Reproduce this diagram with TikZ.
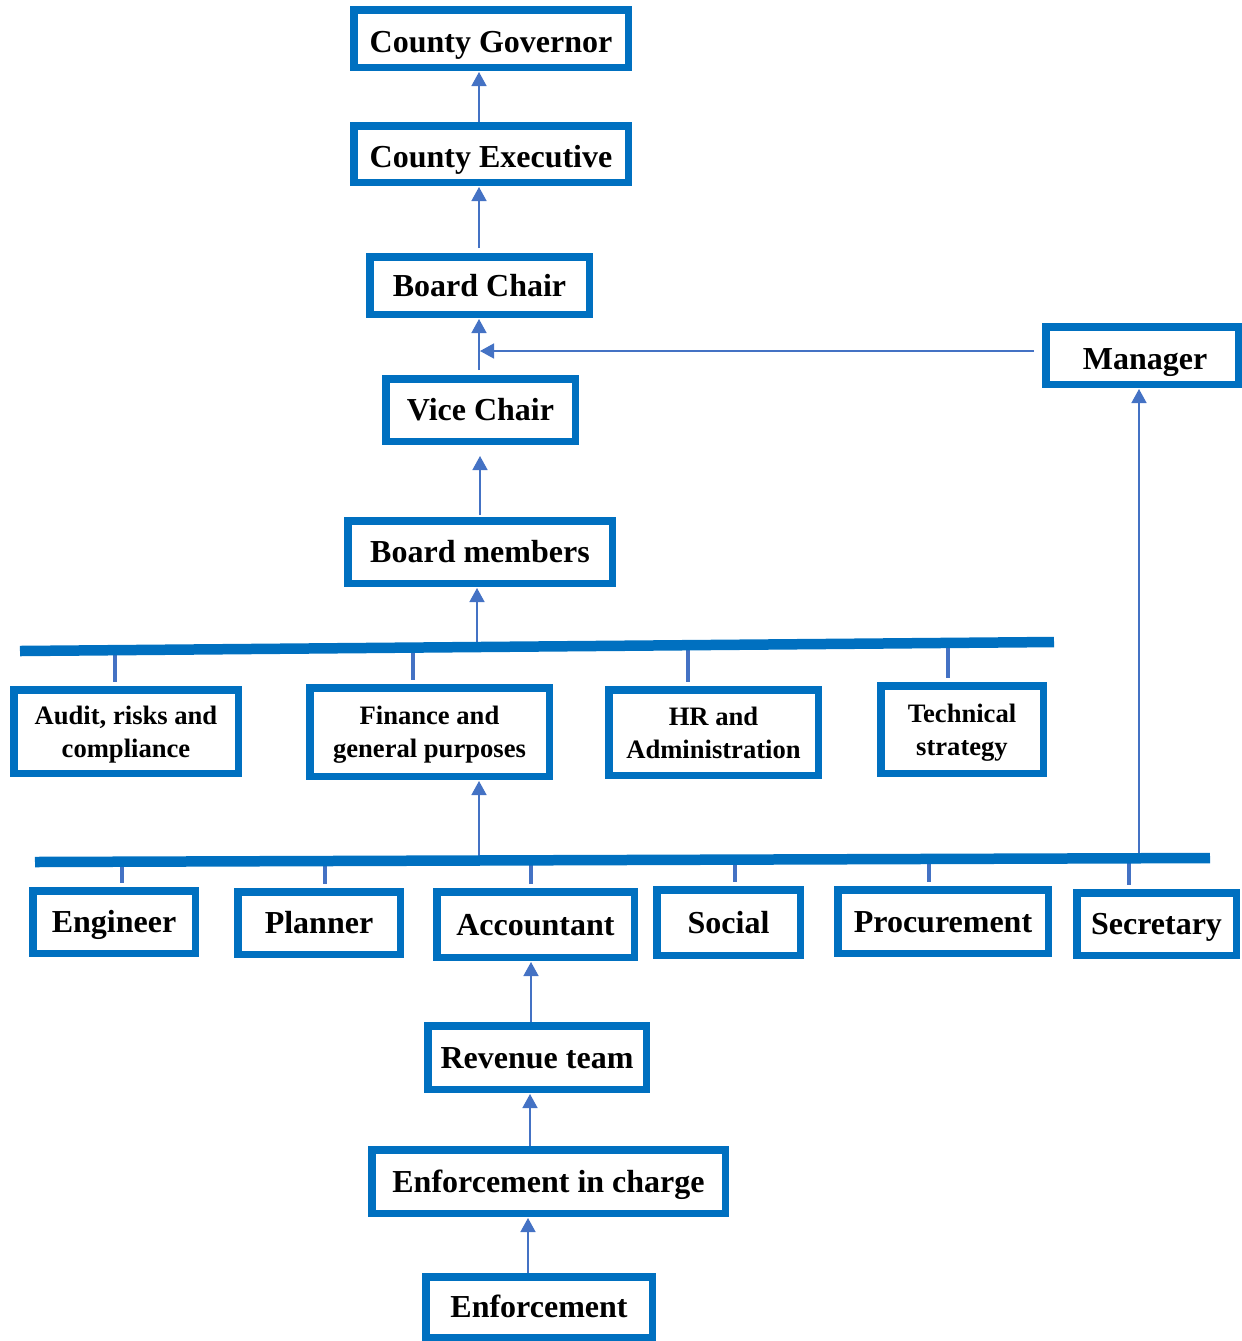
\documentclass[tikz,border=0pt]{standalone}
\usepackage{fontspec}
\setmainfont{Liberation Serif}
\usetikzlibrary{arrows.meta,calc}
\definecolor{boxblue}{HTML}{0070C0}
\definecolor{lineblue}{HTML}{4472C4}
\begin{document}
\begin{tikzpicture}[x=0.5pt,y=-0.5pt,
  box/.style={draw=boxblue, line width=3.75pt, fill=white, inner sep=0pt,
    text height=10.5pt, text depth=0pt,
    font=\fontsize{16}{19}\selectfont\bfseries, align=center},
  lowbox/.style={box, text height=13.5pt},
  cbox/.style={draw=boxblue, line width=3.75pt, fill=white, inner sep=0pt,
    text depth=0pt, align=center, font=\fontsize{13.3}{16.5}\selectfont\bfseries},
  sz/.style 2 args={minimum width=#1pt, minimum height=#2pt},
  arr/.style={draw=lineblue, line width=0.75pt, shorten >=0.5pt,
    -{Triangle[width=7.5pt,length=7pt]}},
  bar/.style={draw=boxblue, line width=5.25pt},
  stub/.style={draw=lineblue, line width=2.4pt, shorten >=1.875pt}]
\useasboundingbox (0,0) rectangle (1242,1341);

% boxes
\node[lowbox, sz={137.25}{28.75}] (gov) at (491,38.5) {County Governor};
\node[lowbox, sz={137.25}{28.25}] (exec) at (491,154) {County Executive};
\node[box, sz={109.75}{28.75}] (chair) at (479.5,285.5) {Board Chair};
\node[box, sz={94.75}{31.25}] (vice) at (480.5,410) {Vice Chair};
\node[lowbox, sz={96.25}{28.75}] (manager) at (1142,355.5) {\hspace*{3pt}Manager};
\node[box, sz={132.25}{31.25}] (members) at (480,552) {Board members};
\node[cbox, sz={112.25}{41.75}] (audit) at (126,731.5) {Audit, risks and\\compliance};
\node[cbox, sz={119.75}{44.25}] (finance) at (429.5,732) {Finance and\\general purposes};
\node[cbox, sz={104.75}{42.75}] (hr) at (713.5,732.5) {HR and\\Administration};
\node[cbox, sz={81.25}{43.75}] (tech) at (962,729.5) {Technical\\strategy};
\node[box, sz={81.25}{31.25}] (engineer) at (114,922) {Engineer};
\node[box, sz={81.25}{31.25}] (planner) at (319,923) {Planner};
\node[box, sz={98.75}{32.75}] (accountant) at (535.5,924.5) {Accountant};
\node[box, sz={71.75}{32.75}] (social) at (728.5,922.5) {Social};
\node[box, sz={105.25}{31.75}] (procurement) at (943,921.5) {Procurement};
\node[box, sz={79.75}{31.25}] (secretary) at (1156.5,924) {Secretary};
\node[box, sz={109.25}{31.75}] (revenue) at (537,1057.5) {Revenue team};
\node[box, sz={176.75}{31.75}] (incharge) at (548.5,1181.5) {Enforcement in charge};
\node[box, sz={113.25}{30.25}] (enforcement) at (539,1307) {Enforcement};

% helper coordinates
\coordinate (xa) at (479,0);
\coordinate (xb) at (480,0);
\coordinate (mj) at (479,351);
\coordinate (tb1) at (20,651);
\coordinate (tb2) at (1054,642);
\coordinate (bb1) at (35,862);
\coordinate (bb2) at (1210,858);
\coordinate (tm) at (477,647.02);
\coordinate (ta) at (115,650.17);
\coordinate (tf) at (413,647.58);
\coordinate (th) at (688,645.19);
\coordinate (tt) at (948,642.92);
\coordinate (bf) at (479,860.49);
\coordinate (bm) at (1139,858.24);
\coordinate (be) at (122,861.70);
\coordinate (bp) at (325,861.01);
\coordinate (ba) at (531,860.31);
\coordinate (bs) at (735,859.62);
\coordinate (bq) at (929,858.96);
\coordinate (bc) at (1129,858.28);
\coordinate (xr) at (531,0);
\coordinate (xi) at (530,0);
\coordinate (xe) at (528,0);

% arrows in the upper chain
\draw[arr] (exec.north -| xa) -- (gov.south -| xa);
\draw[arr] ([yshift=2.5pt]chair.north -| xa) -- (exec.south -| xa);
\draw[arr] ([yshift=2.5pt]vice.north -| xa) -- (chair.south -| xa);
\draw[arr] ($(manager.west |- mj)+(-8,0)$) -- (mj);
\draw[arr, shorten >=5.5pt] ([yshift=1pt]members.north -| xb) -- (vice.south -| xb);
\draw[arr] (tm) -- (members.south -| tm);

% committee stubs
\draw[stub] (ta) -- (audit.north -| ta);
\draw[stub] (tf) -- (finance.north -| tf);
\draw[stub] (th) -- (hr.north -| th);
\draw[stub] (tt) -- (tech.north -| tt);

% lower bar links
\draw[arr] (bf) -- (finance.south -| bf);
\draw[arr] ([yshift=-1.5pt]bm) -- (manager.south -| bm);
\draw[stub] (be) -- (engineer.north -| be);
\draw[stub] (bp) -- (planner.north -| bp);
\draw[stub] (ba) -- (accountant.north -| ba);
\draw[stub] (bs) -- (social.north -| bs);
\draw[stub] (bq) -- (procurement.north -| bq);
\draw[stub] (bc) -- (secretary.north -| bc);

% bottom chain
\draw[arr] (revenue.north -| xr) -- (accountant.south -| xr);
\draw[arr] (incharge.north -| xi) -- (revenue.south -| xi);
\draw[arr] (enforcement.north -| xe) -- (incharge.south -| xe);

% bars
\draw[bar] (tb1) -- (tb2);
\draw[bar] (bb1) -- (bb2);
\end{tikzpicture}
\end{document}
